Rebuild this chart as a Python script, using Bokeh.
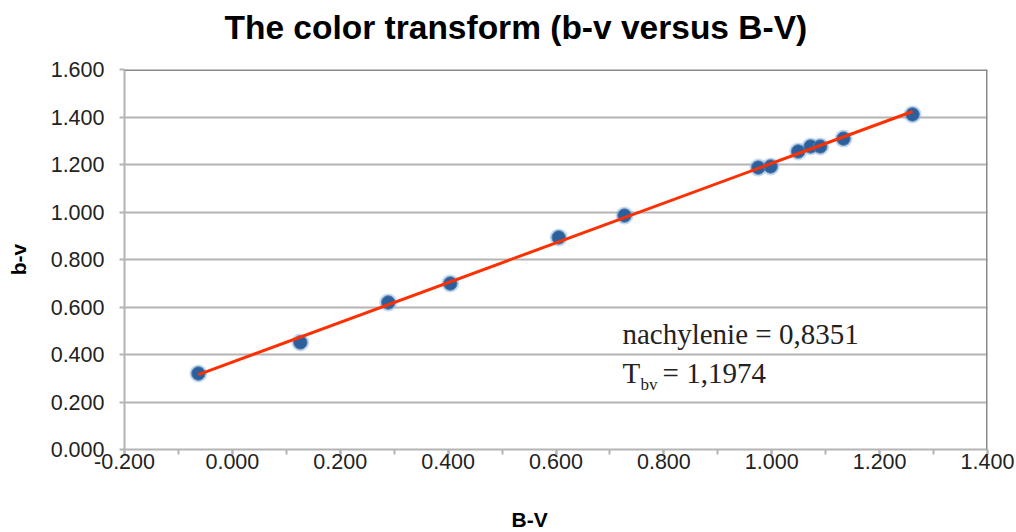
import numpy as np
from bokeh.plotting import figure
from bokeh.models import Range1d, Label, FixedTicker, Span, CustomJSTickFormatter, Title
from bokeh.embed import file_html
from bokeh.resources import INLINE

# Data
BV = [-0.063, 0.126, 0.289, 0.404, 0.605, 0.727, 0.975, 0.998, 1.049, 1.072, 1.090, 1.133, 1.261]
bv = [0.320, 0.451, 0.619, 0.699, 0.893, 0.985, 1.187, 1.192, 1.255, 1.276, 1.276, 1.309, 1.411]
x_ticks = [-0.2, 0.0, 0.2, 0.4, 0.6, 0.8, 1.0, 1.2, 1.4]
y_ticks = [0.0, 0.2, 0.4, 0.6, 0.8, 1.0, 1.2, 1.4, 1.6]
title_text = "The color transform (b-v versus B-V)"
x_label = "B-V"
y_label = "b-v"
slope_text = "nachylenie = 0,8351"
tbv_main = "T"
tbv_sub = "bv"
tbv_value = "= 1,1974"

GRID = "#b4b4b4"
BORDER = "#8a8a8a"
sans = "Liberation Sans"
serif = "Liberation Serif"

p = figure(width=1016, height=532, output_backend="svg", toolbar_location=None,
           x_range=Range1d(-0.2, 1.4), y_range=Range1d(0, 1.6),
           min_border_left=124, min_border_right=29, min_border_top=69, min_border_bottom=83)

p.title.text = title_text
p.title.align = "left"
p.title.offset = 100
p.title.text_font = sans
p.title.text_font_style = "bold"
p.title.text_font_size = "33.5px"
p.title.text_color = "#000000"
p.title.standoff = 0

# spacer between the title and the plot area
p.add_layout(Title(text=" ", text_font_size="10px", standoff=11), "above")

p.background_fill_color = "white"
p.border_fill_color = "white"
p.outline_line_color = None

fmt = CustomJSTickFormatter(code="return tick.toFixed(3);")
p.xaxis.ticker = FixedTicker(ticks=x_ticks, minor_ticks=[round(-0.2 + 0.1 * i, 2) for i in range(17)])
p.yaxis.ticker = FixedTicker(ticks=y_ticks)
p.xaxis.formatter = fmt
p.yaxis.formatter = fmt

for ax in (p.xaxis[0], p.yaxis[0]):
    ax.axis_line_color = GRID
    ax.axis_line_width = 2
    ax.major_tick_line_color = GRID
    ax.major_tick_line_width = 2
    ax.minor_tick_line_color = GRID
    ax.minor_tick_line_width = 2
    ax.major_tick_in = 0
    ax.minor_tick_in = 0
    ax.major_tick_out = 5
    ax.major_label_text_font = sans
    ax.major_label_text_font_size = "21.5px"
    ax.major_label_text_color = "#222222"

p.xaxis.minor_tick_out = 5
p.yaxis.minor_tick_out = 0
p.xaxis.major_label_standoff = -1
p.yaxis.major_label_standoff = 15

p.yaxis.axis_label = y_label
p.yaxis.axis_label_text_font = sans
p.yaxis.axis_label_text_font_style = "bold"
p.yaxis.axis_label_text_font_size = "21px"
p.yaxis.axis_label_text_color = "#000000"
p.yaxis.axis_label_standoff = 18

# spacer, then x-axis title at the bottom
p.add_layout(Title(text=" ", text_font_size="10px", standoff=21), "below")
p.add_layout(Title(text=x_label, align="left", offset=387, text_font=sans, text_font_style="bold",
                   text_font_size="21px", text_color="#000000", standoff=0), "below")

p.xgrid.grid_line_color = None
p.ygrid.grid_line_color = GRID
p.ygrid.grid_line_width = 2

# plot-area border (top and right)
p.add_layout(Span(location=1.6, dimension="width", line_color=BORDER, line_width=3))
p.add_layout(Span(location=1.4, dimension="height", line_color=BORDER, line_width=3))

# linear fit
coef = np.polyfit(BV, bv, 1)
xs = [min(BV), max(BV)]
ys = [coef[0] * x + coef[1] for x in xs]

p.scatter(BV, bv, size=18, fill_color="#8fb3d8", fill_alpha=0.5, line_color=None)
p.scatter(BV, bv, size=13.5, fill_color="#2b609c", line_color="#4f7fb5", line_width=1)
p.line(xs, ys, line_color="#ff3000", line_width=3)

p.add_layout(Label(x=0.7232, y=0.488, text=slope_text, text_font=serif, text_font_size="29px",
                   text_baseline="middle", text_color="#222222"))
p.add_layout(Label(x=0.7232, y=0.324, text=tbv_main, text_font=serif, text_font_size="29px",
                   text_baseline="middle", text_color="#222222"))
p.add_layout(Label(x=0.7566, y=0.274, text=tbv_sub, text_font=serif, text_font_size="17px",
                   text_baseline="middle", text_color="#222222"))
p.add_layout(Label(x=0.7975, y=0.324, text=tbv_value, text_font=serif, text_font_size="29px",
                   text_baseline="middle", text_color="#222222"))

open("out.html", "w").write(file_html(p, INLINE))
